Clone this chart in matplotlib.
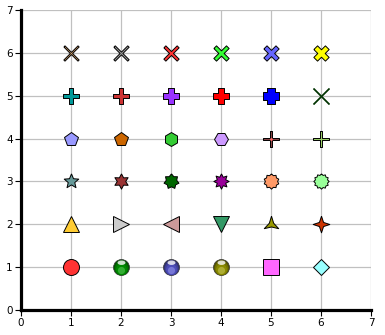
import numpy as np
import matplotlib
matplotlib.use("Agg")
import matplotlib.pyplot as plt
from matplotlib.markers import MarkerStyle
from matplotlib.transforms import Affine2D

# marker grid: one row per y value, six markers per row
xs = [1, 2, 3, 4, 5, 6]
row_y = [1, 2, 3, 4, 5, 6]
row_colors = [
    ["#ff3333", "#009900", "#5555cc", "#999900", "#ff66ff", "#99ffff"],
    ["#ffcc33", "#cccccc", "#cc9999", "#339966", "#999900", "#cc3300"],
    ["#669999", "#993333", "#006600", "#990099", "#ff9966", "#99ff99"],
    ["#9999ff", "#cc6600", "#33cc33", "#cc99ff", "#884444", "#99cc66"],
    ["#009999", "#cc3333", "#9933ff", "#ff0000", "#0000ff", "#003300"],
    ["#cc9966", "#999999", "#ff3333", "#33ff33", "#6666ff", "#ffff00"],
]
x_ticks = [0, 1, 2, 3, 4, 5, 6, 7]
y_ticks = [0, 1, 2, 3, 4, 5, 6, 7]


def star(n, inner):
    ang = np.pi / 2 + np.arange(2 * n) * np.pi / n
    r = np.where(np.arange(2 * n) % 2 == 0, 1.0, inner)
    v = np.column_stack([r * np.cos(ang), r * np.sin(ang)])
    return np.vstack([v, v[:1]])


def cross(t, rot=0):
    h = t / 2
    v = np.array([[-h, 1], [h, 1], [h, h], [1, h], [1, -h], [h, -h], [h, -1],
                  [-h, -1], [-h, -h], [-1, -h], [-1, h], [-h, h], [-h, 1]])
    if rot:
        c, s = np.cos(np.radians(rot)), np.sin(np.radians(rot))
        v = v @ np.array([[c, s], [-s, c]])
    return v


def xmark(t):
    return cross(t, 45)


shapes = [
    ["o", "sphere", "sphere", "sphere", "s", "D"],
    ["^", ">", "<", "v", star(3, 0.3), star(4, 0.35)],
    [star(5, 0.45), star(6, 0.55), star(7, 0.7), star(8, 0.6), star(10, 0.8), star(12, 0.82)],
    ["p", "p", "h", "H", cross(0.2), cross(0.3)],
    [cross(0.42), cross(0.55), cross(0.68), cross(0.78), cross(0.88), xmark(0.12)],
    [xmark(0.16), xmark(0.2), xmark(0.3), xmark(0.42), xmark(0.52), xmark(0.64)],
]
sizes = [
    [11.5, 11.5, 11.5, 11.5, 11, 8.5],
    [11.5, 11.5, 11.5, 11.5, 12, 12],
    [11, 11, 11, 11, 11, 11],
    [10.5, 10.5, 10, 10, 11, 11],
    [11, 11.5, 11.5, 11.5, 11.5, 12],
    [11, 11, 11, 11, 11, 11],
]

fig = plt.figure(figsize=(3.85, 3.35), dpi=100)
ax = fig.add_axes([21 / 385, 25 / 335, 350 / 385, 300 / 335])

for i, y in enumerate(row_y):
    for j, x in enumerate(xs):
        col = row_colors[i][j]
        shp = shapes[i][j]
        ms = sizes[i][j]
        if isinstance(shp, str) and shp == "sphere":
            base = np.array(matplotlib.colors.to_rgb(col))
            shades = [base * 0.55, base * 0.75, base * 0.9, base + (1 - base) * 0.2]
            for k, (f, c) in enumerate(zip([1.0, 0.85, 0.68, 0.45], shades)):
                ax.plot(x, y - 0.025 * k, marker="o", ms=ms * f, mfc=tuple(c),
                        mec="#333333" if k == 0 else "none", mew=0.5, ls="none", zorder=3 + k)
            hl = MarkerStyle("o", transform=Affine2D().scale(0.5, 0.28).translate(0, 0.3))
            ax.plot(x, y, marker=hl, ms=ms, mfc="#ffffff", mec="none", alpha=0.8,
                    ls="none", zorder=8)
            continue
        if i == 4 and j == 5:
            ax.plot(x, y, marker=shp, ms=ms, mfc=col, mec=col, mew=0.3, ls="none", zorder=3)
            continue
        ax.plot(x, y, marker=shp, ms=ms, mfc=col, mec="black", mew=0.7, ls="none", zorder=3)
        if i == 3 and j == 4:
            ax.plot(x, y, marker="o", ms=2, mfc="#ff6666", mec="none", ls="none", zorder=4)

ax.set_xlim(0, 7)
ax.set_ylim(0, 7)
ax.set_xticks(x_ticks)
ax.set_yticks(y_ticks)
ax.grid(True, color="#c0c0c0", lw=0.9)
ax.set_axisbelow(True)
for s in ["top", "right"]:
    ax.spines[s].set_visible(False)
for s in ["left", "bottom"]:
    ax.spines[s].set_linewidth(2.3)
ax.tick_params(direction="out", length=4, width=0.8, labelsize=7.5, pad=2)

fig.savefig("out.png", dpi=100)
